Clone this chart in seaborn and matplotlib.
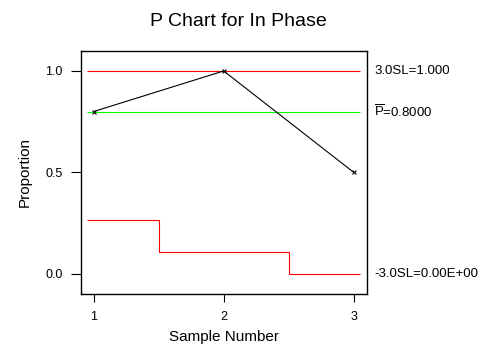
import numpy as np
import pandas as pd
import matplotlib
matplotlib.use("Agg")
import matplotlib.pyplot as plt
import seaborn as sns

# p chart data
samples = [1, 2, 3]
proportion = [0.8, 1.0, 0.5]
center = 0.8
ucl = 1.0
lcl = [0.263, 0.107, 0.0]
lcl_edges = [0.95, 1.5, 2.5, 3.05]
ucl_text = "3.0SL=1.000"
center_text = r"$\overline{\mathrm{P}}$=0.8000"
lcl_text = "-3.0SL=0.00E+00"

sns.set_style("ticks")
plt.rcParams["font.family"] = ["Liberation Sans", "DejaVu Sans"]
plt.rcParams["mathtext.fontset"] = "custom"
plt.rcParams["mathtext.rm"] = "Liberation Sans"
plt.rcParams["mathtext.it"] = "Liberation Sans"
plt.rcParams["text.color"] = "black"
plt.rcParams["axes.labelcolor"] = "black"
plt.rcParams["xtick.labelcolor"] = "black"
plt.rcParams["ytick.labelcolor"] = "black"

df = pd.DataFrame({"sample": samples, "p": proportion})

fig = plt.figure(figsize=(4.86, 3.51), dpi=100)
ax = fig.add_axes([0.166, 0.1624, 0.5885, 0.6932])

ax.hlines(ucl, lcl_edges[0], lcl_edges[-1], color="#ff0000", linewidth=0.8)
ax.hlines(center, lcl_edges[0], lcl_edges[-1], color="#00ff00", linewidth=0.8)
ax.stairs(lcl, lcl_edges, baseline=None, color="#ff0000", linewidth=0.8)

sns.lineplot(data=df, x="sample", y="p", ax=ax, color="black", linewidth=0.8,
             marker="x", markersize=3.5, markeredgewidth=0.8, markeredgecolor="black")

ax.set_xlim(0.9, 3.1)
ax.set_ylim(-0.1, 1.1)
ax.set_xticks(samples)
ax.set_xticklabels([str(s) for s in samples])
ax.set_yticks([0.0, 0.5, 1.0])
ax.set_yticklabels(["0.0", "0.5", "1.0"])
ax.tick_params(axis="y", length=7, width=0.8, pad=6, labelsize=9, color="black")
ax.tick_params(axis="x", length=6, width=0.8, pad=6, labelsize=9, color="black")

for s in ax.spines.values():
    s.set_visible(True)
    s.set_color("black")
    s.set_linewidth(1.0)

ax.set_xlabel("Sample Number", fontsize=11, labelpad=5)
ax.set_ylabel("Proportion", fontsize=11, labelpad=10)
ax.set_title("P Chart for In Phase", fontsize=14, pad=18, x=0.55)

tr = ax.get_yaxis_transform()
ax.text(1.027, ucl, ucl_text, transform=tr, fontsize=9.5, va="center", ha="left")
ax.text(1.027, center, center_text, transform=tr, fontsize=9.5, va="center", ha="left")
ax.text(1.027, lcl[-1], lcl_text, transform=tr, fontsize=9.5, va="center", ha="left")

fig.savefig("out.png", dpi=100)
